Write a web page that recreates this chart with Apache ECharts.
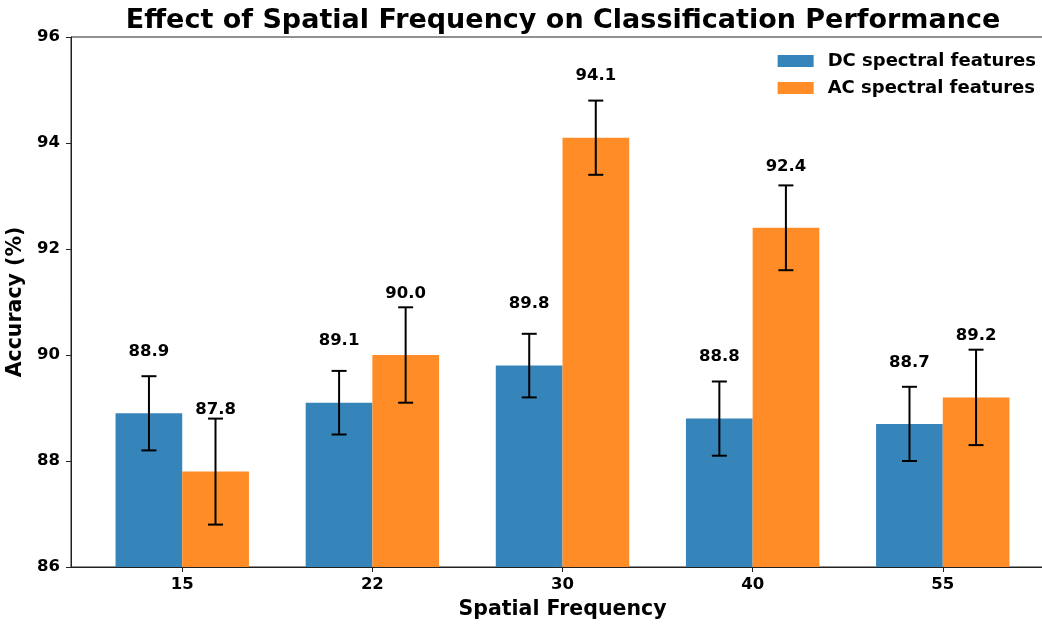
<!DOCTYPE html>
<html>
<head>
<meta charset="utf-8">
<script src="https://cdn.jsdelivr.net/npm/echarts@6/dist/echarts.min.js"></script>
<style>
  html, body { margin: 0; padding: 0; background: #fff; }
  #main { width: 1042px; height: 625px; }
</style>
</head>
<body>
<div id="main"></div>
<script>
// data
const categories = ["15", "22", "30", "40", "55"];
const dcValues = [88.9, 89.1, 89.8, 88.8, 88.7];
const dcErrors = [0.7, 0.6, 0.6, 0.7, 0.7];
const acValues = [87.8, 90.0, 94.1, 92.4, 89.2];
const acErrors = [1.0, 0.9, 0.7, 0.8, 0.9];
const yTicks = [86, 88, 90, 92, 94, 96];

const font = "DejaVu Sans";
const barUnits = 0.35; // bar width in x units

function toBarData(values) {
  return values.map(function (v, i) { return [i, v]; });
}

function toErrData(values, errors, offset) {
  return values.map(function (v, i) { return [i + offset, v - errors[i], v + errors[i]]; });
}

function renderErr(params, api) {
  const x = api.value(0);
  const lo = api.coord([x, api.value(1)]);
  const hi = api.coord([x, api.value(2)]);
  const cap = 7.5;
  const style = { stroke: "#000", lineWidth: 2 };
  return {
    type: "group",
    children: [
      { type: "line", shape: { x1: lo[0], y1: lo[1], x2: hi[0], y2: hi[1] }, style: style },
      { type: "line", shape: { x1: hi[0] - cap, y1: hi[1], x2: hi[0] + cap, y2: hi[1] }, style: style },
      { type: "line", shape: { x1: lo[0] - cap, y1: lo[1], x2: lo[0] + cap, y2: lo[1] }, style: style },
    ],
  };
}

var myChart = echarts.init(document.getElementById("main"));

const barLabel = {
  show: true,
  position: "top",
  distance: 53,
  fontFamily: font,
  fontWeight: "bold",
  fontSize: 16.5,
  color: "#000",
  formatter: function (p) { return p.value[1].toFixed(1); },
};

var option = {
  animation: false,
  title: {
    text: "Effect of Spatial Frequency on Classification Performance",
    left: 558,
    textAlign: "center",
    top: 2,
    textStyle: { fontFamily: font, fontWeight: "bold", fontSize: 27, color: "#000" },
  },
  legend: {
    data: ["DC spectral features", "AC spectral features"],
    orient: "vertical",
    right: 1,
    top: 47,
    icon: "rect",
    itemWidth: 36,
    itemHeight: 12,
    itemGap: 9,
    textStyle: { fontFamily: font, fontWeight: "bold", fontSize: 18, color: "#000", padding: [0, 0, 0, 9] },
  },
  grid: {
    left: 71,
    top: 37,
    bottom: 58,
    width: 983,
    outerBoundsMode: "none",
    containLabel: false,
    show: true,
    borderColor: "#222",
    borderWidth: 1,
  },
  xAxis: {
    type: "value",
    min: -0.585,
    max: 4.585,
    name: "Spatial Frequency",
    nameLocation: "middle",
    nameGap: 32,
    nameTextStyle: { fontFamily: font, fontWeight: "bold", fontSize: 20.5, color: "#000" },
    splitLine: { show: false },
    axisLine: { show: true, onZero: false, lineStyle: { color: "#222", width: 1 } },
    axisTick: { show: true, length: 5, lineStyle: { color: "#222" }, customValues: [0, 1, 2, 3, 4] },
    axisLabel: {
      customValues: [0, 1, 2, 3, 4],
      margin: 9,
      fontFamily: font,
      fontWeight: "bold",
      fontSize: 16.5,
      color: "#000",
      formatter: function (v) { return categories[Math.round(v)]; },
    },
  },
  yAxis: {
    type: "value",
    min: yTicks[0],
    max: yTicks[yTicks.length - 1],
    interval: 2,
    name: "Accuracy (%)",
    nameLocation: "middle",
    nameGap: 39,
    nameTextStyle: { fontFamily: font, fontWeight: "bold", fontSize: 20.5, color: "#000" },
    splitLine: { show: false },
    axisLine: { show: true, onZero: false, lineStyle: { color: "#222", width: 1 } },
    axisTick: { show: true, length: 5, lineStyle: { color: "#222" } },
    axisLabel: { margin: 11, fontFamily: font, fontWeight: "bold", fontSize: 16.5, color: "#000" },
  },
  series: [
    {
      name: "DC spectral features",
      type: "bar",
      data: toBarData(dcValues),
      barWidth: 66.7,
      barGap: "0%",
      itemStyle: { color: "#3585BB" },
      label: barLabel,
    },
    {
      name: "AC spectral features",
      type: "bar",
      data: toBarData(acValues),
      barWidth: 66.7,
      barGap: "0%",
      itemStyle: { color: "#FF8C26" },
      label: barLabel,
    },
    {
      type: "custom",
      renderItem: renderErr,
      data: toErrData(dcValues, dcErrors, -barUnits / 2),
      z: 5,
    },
    {
      type: "custom",
      renderItem: renderErr,
      data: toErrData(acValues, acErrors, barUnits / 2),
      z: 5,
    },
  ],
};

myChart.setOption(option);
</script>
</body>
</html>
